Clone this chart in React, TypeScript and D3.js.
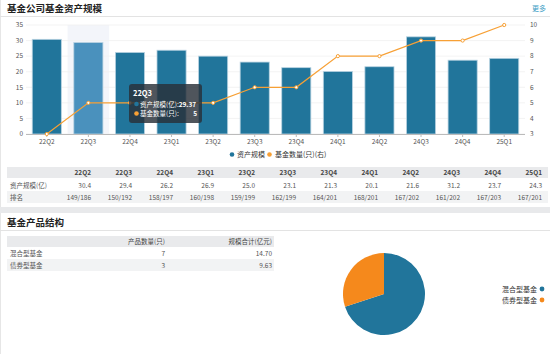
import React from "react";
import * as d3 from "d3";

const quarters = ["22Q2","22Q3","22Q4","23Q1","23Q2","23Q3","23Q4","24Q1","24Q2","24Q3","24Q4","25Q1"];
const assetValues = [30.4, 29.37, 26.2, 26.9, 25.0, 23.1, 21.3, 20.1, 21.6, 31.2, 23.7, 24.3];
const fundCounts = [3, 5, 5, 5, 5, 6, 6, 8, 8, 9, 9, 10];
const assetLabels = ["30.4","29.4","26.2","26.9","25.0","23.1","21.3","20.1","21.6","31.2","23.7","24.3"];
const rankLabels = ["149/186","150/192","158/197","160/198","159/199","162/199","164/201","168/201","167/202","161/202","167/203","167/201"];
const leftTicks = [0, 5, 10, 15, 20, 25, 30, 35];
const rightTicks = [3, 4, 5, 6, 7, 8, 9, 10];
const productTypes = ["混合型基金", "债券型基金"];
const productCounts = [7, 3];
const productScales = ["14.70", "9.63"];

const BLUE = "#21759b";
const BLUE_HI = "#4a91bd";
const ORANGE = "#f7a035";
const PIE_ORANGE = "#f5891c";
const FONT = "'Noto Sans CJK SC', 'Noto Sans', sans-serif";
const TXT = "#555";

export default function App() {
  const left = 26, right = 525, top = 25, bottom = 134;
  const x = d3.scaleBand<string>().domain(quarters).range([left, right]).paddingInner(0.3).paddingOuter(0.15);
  const yL = d3.scaleLinear().domain([0, 35]).range([bottom, top]);
  const yR = d3.scaleLinear().domain([3, 10]).range([bottom, top]);
  const line = d3.line<number>()
    .x((_, i) => (x(quarters[i]) as number) + x.bandwidth() / 2)
    .y((d) => yR(d));
  const step = x.step();
  const hi = 1;
  const hiCenter = (x(quarters[hi]) as number) + x.bandwidth() / 2;

  const colRight = d3.scaleLinear().domain([0, quarters.length - 1]).range([91, 542]);
  const pie = d3.pie<number>().sort(null).value((d) => d)(productCounts);
  const arc = d3.arc<d3.PieArcDatum<number>>().innerRadius(0).outerRadius(41);
  const pieColors = [BLUE, PIE_ORANGE];

  return (
    <div style={{ position: "fixed", left: 0, top: 0 }}>
      <svg width={550} height={354} style={{ display: "block", fontFamily: FONT }}>
        <rect x={0} y={0} width={550} height={354} fill="#fff" />
        <rect x={0} y={207} width={550} height={6} fill="#e8e9eb" />
        <line x1={0.5} y1={0} x2={0.5} y2={207} stroke="#e6e6e6" />
        <line x1={0.5} y1={213} x2={0.5} y2={354} stroke="#e6e6e6" />
        <text x={7} y={12} fontSize={9.5} fontWeight="bold" fill="#222">基金公司基金资产规模</text>
        <text x={546} y={11} fontSize={7} fill="#3a9cc4" textAnchor="end">更多</text>
        <line x1={0} y1={16.5} x2={550} y2={16.5} stroke="#e3e3e3" />

        <rect x={hiCenter - step / 2} y={top} width={step} height={bottom - top} fill="#f3f5fa" />
        {leftTicks.map((t) => (
          <line key={t} x1={left} x2={right} y1={yL(t)} y2={yL(t)} stroke="#f0f0f0" strokeWidth={0.8} />
        ))}
        {assetValues.map((v, i) => (
          <rect key={i} x={x(quarters[i])} y={yL(v)} width={x.bandwidth()} height={bottom - yL(v)}
            fill={i === hi ? BLUE_HI : BLUE} stroke="#b9d3e2" strokeWidth={0.8} />
        ))}
        <line x1={left} x2={right} y1={bottom + 0.5} y2={bottom + 0.5} stroke="#bbb" />
        {quarters.map((q) => (
          <g key={q}>
            <line x1={(x(q) as number) + x.bandwidth() / 2} x2={(x(q) as number) + x.bandwidth() / 2} y1={bottom} y2={bottom + 3} stroke="#bbb" />
            <text x={(x(q) as number) + x.bandwidth() / 2} y={144} fontSize={6.5} fill={TXT} textAnchor="middle">{q}</text>
          </g>
        ))}
        {leftTicks.map((t) => (
          <text key={t} x={23} y={yL(t) + 2.3} fontSize={6.5} fill={TXT} textAnchor="end">{t}</text>
        ))}
        {rightTicks.map((t) => (
          <text key={t} x={530} y={yR(t) + 2.3} fontSize={6.5} fill={TXT}>{t}</text>
        ))}
        <path d={line(fundCounts) as string} fill="none" stroke={ORANGE} strokeWidth={1.2} />
        {fundCounts.map((v, i) => (
          <circle key={i} cx={(x(quarters[i]) as number) + x.bandwidth() / 2} cy={yR(v)} r={1.6} fill="#fff" stroke={ORANGE} strokeWidth={1} />
        ))}
        <circle cx={232} cy={154.5} r={2.3} fill={BLUE} />
        <text x={237} y={157} fontSize={7} fill="#333">资产规模</text>
        <circle cx={269.5} cy={154.5} r={2.3} fill={ORANGE} />
        <text x={275} y={157} fontSize={7} fill="#333">基金数量(只)(右)</text>

        <g>
          <rect x={129} y={84} width={73} height={39} rx={3} fill="rgba(40,48,56,0.82)" />
          <text x={133} y={96} fontSize={7.5} fontWeight="bold" fill="#fff">{quarters[hi]}</text>
          <circle cx={136.5} cy={104} r={2.3} fill={BLUE} />
          <text x={140} y={106.5} fontSize={6.5} fill="#fff">资产规模(亿):<tspan fontWeight="bold">{assetValues[hi].toFixed(2)}</tspan></text>
          <circle cx={136.5} cy={113.5} r={2.3} fill={ORANGE} />
          <text x={140} y={116} fontSize={6.5} fill="#fff">基金数量(只):</text>
          <text x={197} y={116} fontSize={6.5} fontWeight="bold" fill="#fff" textAnchor="end">{fundCounts[hi]}</text>
        </g>

        <rect x={7} y={167} width={541} height={11} fill="#e9eaec" />
        <rect x={7} y={191} width={541} height={12} fill="#f2f3f4" />
        {quarters.map((q, i) => (
          <g key={q}>
            <text x={colRight(i)} y={175} fontSize={6.5} fontWeight="bold" fill="#444" textAnchor="end">{q}</text>
            <text x={colRight(i)} y={187.5} fontSize={6.5} fill={TXT} textAnchor="end">{assetLabels[i]}</text>
            <text x={colRight(i)} y={199.5} fontSize={6.5} fill={TXT} textAnchor="end">{rankLabels[i]}</text>
          </g>
        ))}
        <text x={10} y={187.5} fontSize={6.5} fill={TXT}>资产规模(亿)</text>
        <text x={10} y={199.5} fontSize={6.5} fill={TXT}>排名</text>

        <text x={7} y={226} fontSize={9.5} fontWeight="bold" fill="#222">基金产品结构</text>
        <line x1={0} y1={230.5} x2={550} y2={230.5} stroke="#e3e3e3" />

        <rect x={7} y={236} width={267} height={11} fill="#e9eaec" />
        <rect x={7} y={259} width={267} height={12} fill="#f2f3f4" />
        <text x={165} y={244} fontSize={6.5} fill="#444" textAnchor="end">产品数量(只)</text>
        <text x={272} y={244} fontSize={6.5} fill="#444" textAnchor="end">规模合计(亿元)</text>
        {productTypes.map((p, i) => (
          <g key={p}>
            <text x={10} y={256 + i * 11.5} fontSize={6.5} fill={TXT}>{p}</text>
            <text x={165} y={256 + i * 11.5} fontSize={6.5} fill={TXT} textAnchor="end">{productCounts[i]}</text>
            <text x={272} y={256 + i * 11.5} fontSize={6.5} fill={TXT} textAnchor="end">{productScales[i]}</text>
          </g>
        ))}

        <g transform="translate(384,294)">
          {pie.map((s, i) => (
            <path key={i} d={arc(s) as string} fill={pieColors[i]} />
          ))}
        </g>
        {productTypes.map((p, i) => (
          <g key={p}>
            <text x={537} y={291.5 + i * 11} fontSize={7} fill="#333" textAnchor="end">{p}</text>
            <circle cx={542} cy={289 + i * 11} r={2.4} fill={pieColors[i]} />
          </g>
        ))}
      </svg>
    </div>
  );
}
